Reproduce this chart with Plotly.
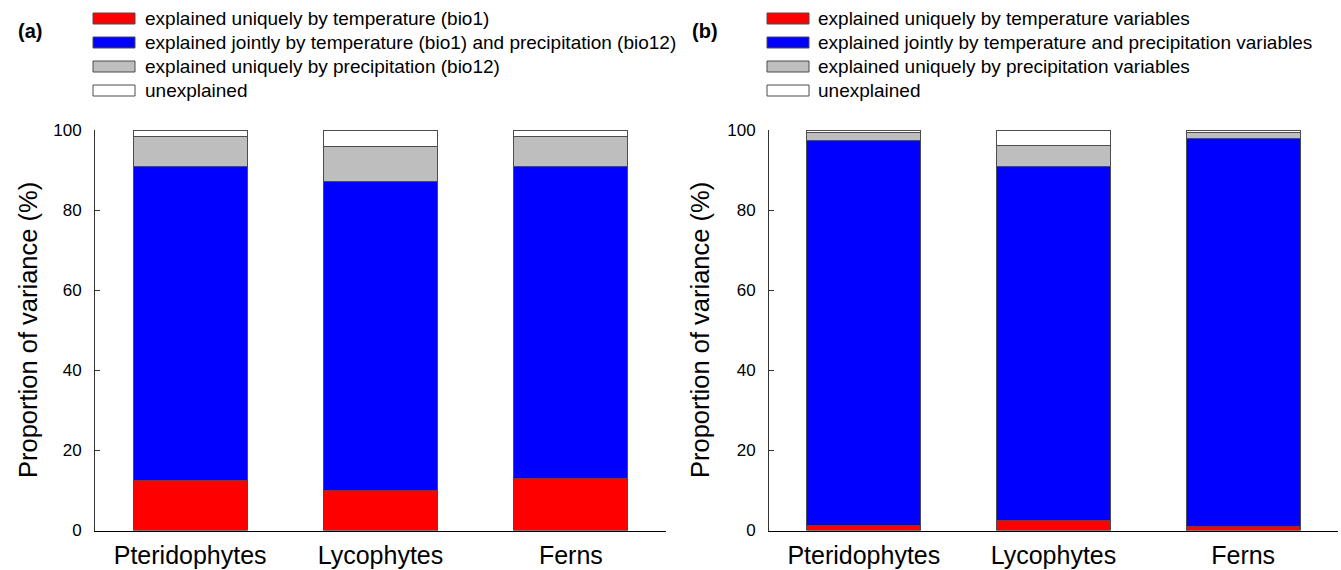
import plotly.graph_objects as go

categories = ["Pteridophytes", "Lycophytes", "Ferns"]

# Panel (a)
a_temp = [12.5, 10.0, 13.0]
a_joint = [78.5, 77.2, 78.0]
a_prec = [7.5, 8.8, 7.5]
a_unexp = [1.5, 4.0, 1.5]

# Panel (b)
b_temp = [1.2, 2.5, 1.0]
b_joint = [96.3, 88.3, 96.8]
b_prec = [1.9, 5.4, 1.5]
b_unexp = [0.6, 3.8, 0.7]

legend_a = [
    "explained uniquely by temperature (bio1)",
    "explained jointly by temperature (bio1) and precipitation (bio12)",
    "explained uniquely by precipitation (bio12)",
    "unexplained",
]
legend_b = [
    "explained uniquely by temperature variables",
    "explained jointly by temperature and precipitation variables",
    "explained uniquely by precipitation variables",
    "unexplained",
]
y_ticks = [0, 20, 40, 60, 80, 100]

colors = ["#FF0000", "#0000FF", "#BEBEBE", "#FFFFFF"]
outline = "#4d4d4d"
FONT = "Arial, Liberation Sans, Helvetica, sans-serif"

W, H = 1341, 570

fig = go.Figure()

for series, xa, ya in [((a_temp, a_joint, a_prec, a_unexp), "x", "y"),
                       ((b_temp, b_joint, b_prec, b_unexp), "x2", "y2")]:
    for vals, col in zip(series, colors):
        fig.add_trace(go.Bar(
            x=categories, y=vals, xaxis=xa, yaxis=ya,
            marker=dict(color=col, line=dict(color=outline, width=1)),
            width=0.6, showlegend=False, hoverinfo="skip",
        ))

def px_x(v):
    return v / W

def px_y(v):
    return 1 - v / H

xdomA = [px_x(95), px_x(666)]
xdomB = [px_x(769), px_x(1338)]
ydom = [px_y(530.5), px_y(130)]

common_x = dict(
    range=[-0.5, 2.5], showline=True, linecolor="black", linewidth=1,
    ticks="", showgrid=False, zeroline=False, automargin=False,
    tickfont=dict(family=FONT, size=25, color="black"),
    ticklabelstandoff=2,
)
common_y = dict(
    range=[0, 100], showline=True, linecolor="#333333", linewidth=1,
    ticks="inside", ticklen=5, tickcolor="#333333", tickwidth=1,
    tickvals=y_ticks, showgrid=False, zeroline=False, automargin=False,
    tickfont=dict(family=FONT, size=17, color="black"),
    ticklabelstandoff=9,
)

fig.update_layout(
    width=W, height=H,
    margin=dict(l=0, r=0, t=0, b=0, autoexpand=False),
    plot_bgcolor="white", paper_bgcolor="white",
    barmode="stack", bargap=0.4,
    xaxis=dict(domain=xdomA, anchor="y", **common_x),
    yaxis=dict(domain=ydom, anchor="x", **common_y),
    xaxis2=dict(domain=xdomB, anchor="y2", **common_x),
    yaxis2=dict(domain=ydom, anchor="x2", **common_y),
)

shapes = []
annotations = []

# y axis titles
for xc in [28, 700]:
    annotations.append(dict(
        x=px_x(xc), y=px_y(330), xref="paper", yref="paper",
        text="Proportion of variance (%)", textangle=-90, showarrow=False,
        font=dict(family=FONT, size=25.5, color="black"),
        xanchor="center", yanchor="middle",
    ))

# panel labels
annotations.append(dict(x=px_x(16), y=px_y(31), xref="paper", yref="paper",
                        text="<b>(a)</b>", showarrow=False, xanchor="left", yanchor="middle",
                        font=dict(family=FONT, size=20, color="black")))
annotations.append(dict(x=px_x(690), y=px_y(31), xref="paper", yref="paper",
                        text="<b>(b)</b>", showarrow=False, xanchor="left", yanchor="middle",
                        font=dict(family=FONT, size=20, color="black")))

# legends
row_centers = [18.5, 42.5, 66.5, 90.5]
for labels, sx0, sx1, tx in [(legend_a, 93, 135, 143), (legend_b, 767, 809, 816)]:
    for lab, col, yc in zip(labels, colors, row_centers):
        shapes.append(dict(type="rect", xref="paper", yref="paper",
                           x0=px_x(sx0), x1=px_x(sx1), y0=px_y(yc + 5.5), y1=px_y(yc - 5.5),
                           fillcolor=col, line=dict(color=outline, width=1)))
        annotations.append(dict(x=px_x(tx), y=px_y(yc), xref="paper", yref="paper",
                                text=lab, showarrow=False, xanchor="left", yanchor="middle",
                                font=dict(family=FONT, size=19, color="black")))

fig.update_layout(shapes=shapes, annotations=annotations)

fig.write_html("out.html")
